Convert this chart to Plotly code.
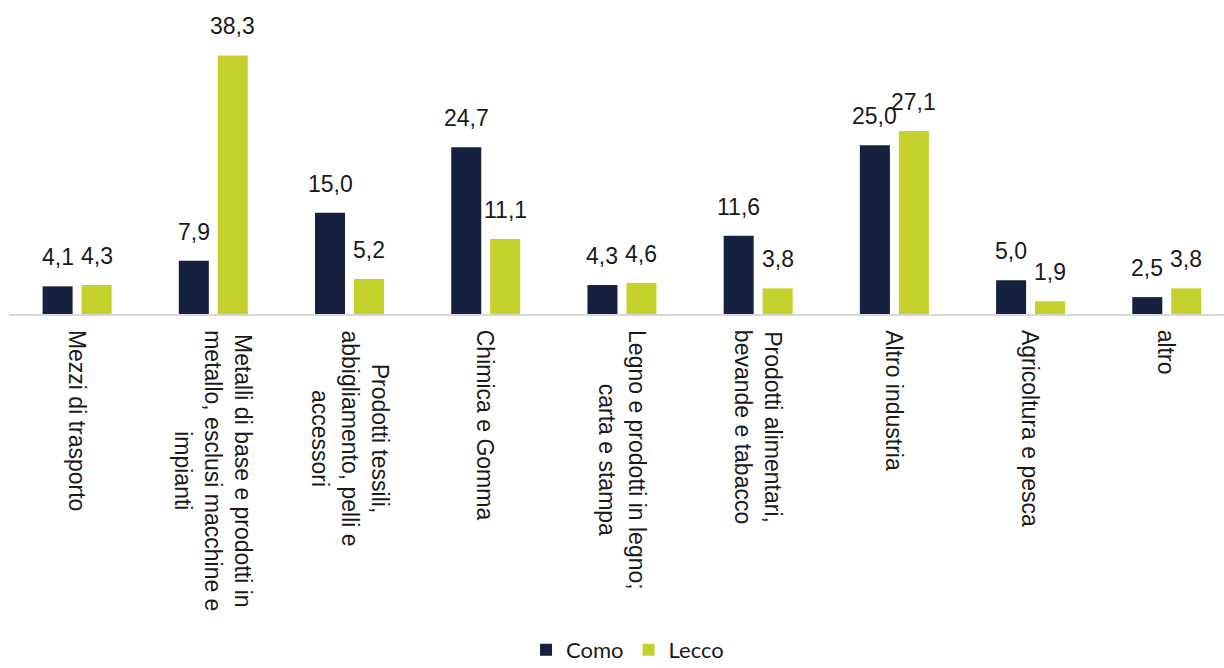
import plotly.graph_objects as go

categories = [
    "Mezzi di trasporto",
    "Metalli di base e prodotti in<br>metallo, esclusi macchine e<br>impianti",
    "Prodotti tessili,<br>abbigliamento, pelli e<br>accessori",
    "Chimica e Gomma",
    "Legno e prodotti in legno;<br>carta e stampa",
    "Prodotti alimentari,<br>bevande e tabacco",
    "Altro industria",
    "Agricoltura e pesca",
    "altro",
]
como = [4.1, 7.9, 15.0, 24.7, 4.3, 11.6, 25.0, 5.0, 2.5]
lecco = [4.3, 38.3, 5.2, 11.1, 4.6, 3.8, 27.1, 1.9, 3.8]
series_names = ["Como", "Lecco"]
colors = ["#16213F", "#C5D12C"]

W, H = 1224, 668
ML, MR, MT, MB = 9, 0, 44, 354
XR = [-0.5, 8.42]
YR = [0, 40]
BARGAP = 0.4275
GROUPGAP = 0.23

FONT = "Liberation Sans, Arial, sans-serif"

def fmt(v):
    return f"{v:.1f}".replace(".", ",")

xs = list(range(len(categories)))

fig = go.Figure()
for name, vals, col in zip(series_names, [como, lecco], colors):
    fig.add_trace(go.Bar(
        x=xs, y=vals, name=name,
        marker=dict(color=col, line=dict(width=0)),
        hoverinfo="skip",
    ))

# pixel geometry for label offsets
px_per_cat = (W - ML - MR) / (XR[1] - XR[0])
slot = px_per_cat * (1 - BARGAP) / 2

annotations = []
for i, x in enumerate(xs):
    for k, vals in enumerate([como, lecco]):
        annotations.append(dict(
            x=x, y=vals[i], xref="x", yref="y",
            text=fmt(vals[i]), showarrow=False,
            xanchor="center", yanchor="bottom",
            xshift=(k - 0.5) * slot, yshift=14,
            font=dict(family=FONT, size=23, color="#1a1a1a"),
        ))
    annotations.append(dict(
        x=x, y=0, xref="x", yref="y",
        text=categories[i], showarrow=False, textangle=90,
        xanchor="center", yanchor="top", align="center",
        yshift=-14,
        font=dict(family=FONT, size=23, color="#1a1a1a"),
    ))

fig.update_layout(
    width=W, height=H,
    margin=dict(l=ML, r=MR, t=MT, b=MB, pad=0),
    paper_bgcolor="white", plot_bgcolor="white",
    barmode="group", bargap=BARGAP, bargroupgap=GROUPGAP,
    xaxis=dict(range=XR, showticklabels=False, ticks="", showgrid=False,
               zeroline=False, showline=True, linecolor="#D9D9D9", linewidth=2),
    yaxis=dict(range=YR, visible=False, showgrid=False, zeroline=False),
    showlegend=True,
    legend=dict(orientation="h", xref="container", yref="container",
                x=0.5127, y=0.027, xanchor="center", yanchor="middle",
                font=dict(family="Lato, sans-serif", size=22, color="#1a1a1a"),
                itemwidth=30, tracegroupgap=0),
    annotations=annotations,
)

fig.write_html("out.html", config={"displayModeBar": False},
               post_script="document.body.style.margin='0';document.body.style.overflow='hidden';")
